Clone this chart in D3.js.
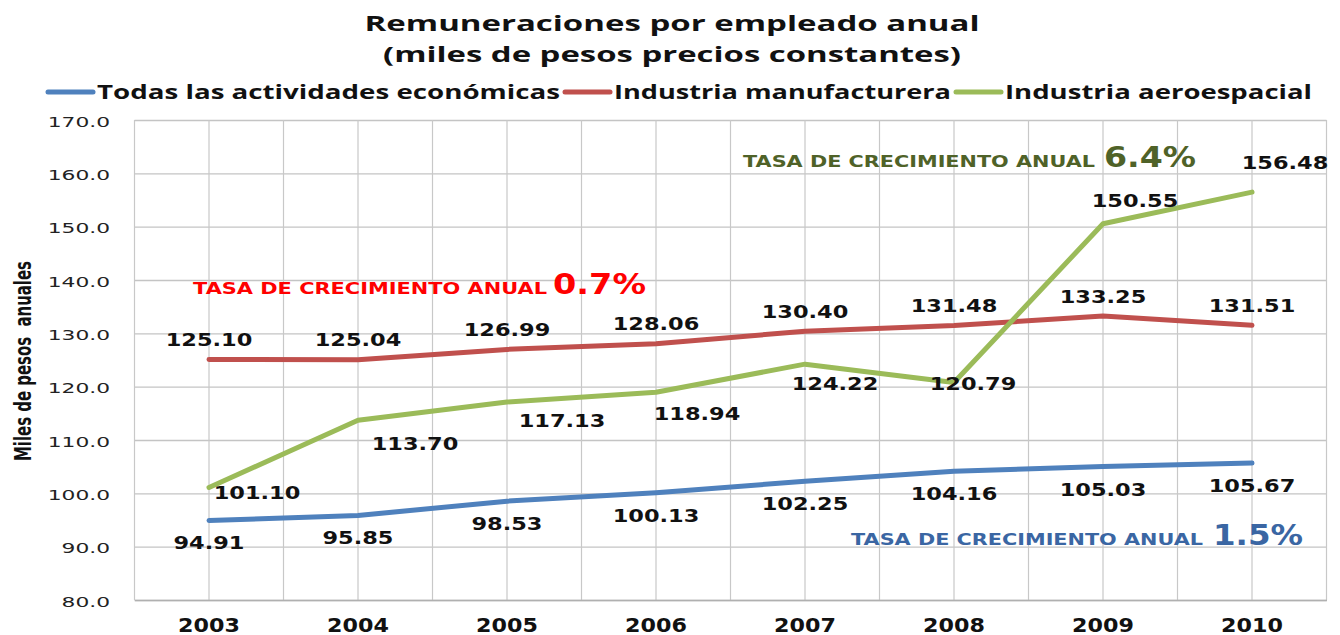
<!DOCTYPE html>
<html>
<head>
<meta charset="utf-8">
<script src="https://cdn.jsdelivr.net/npm/d3@7"></script>
<style>
  body { margin: 0; background: #fff; }
  text { white-space: pre; }
</style>
</head>
<body>
<div id="chart"></div>
<script>
var width = 1340, height = 635;

// data
var years = ['2003', '2004', '2005', '2006', '2007', '2008', '2009', '2010'];
var todas = [94.91, 95.85, 98.53, 100.13, 102.25, 104.16, 105.03, 105.67];
var manufactura = [125.10, 125.04, 126.99, 128.06, 130.40, 131.48, 133.25, 131.51];
var aeroespacial = [101.10, 113.70, 117.13, 118.94, 124.22, 120.79, 150.55, 156.48];
var seriesNames = ['Todas las actividades económicas', 'Industria manufacturera', 'Industria aeroespacial'];
var tasas = ['1.5%', '0.7%', '6.4%'];
var yTicks = [80, 90, 100, 110, 120, 130, 140, 150, 160, 170];

var colors = ['#4F81BD', '#C0504D', '#9BBB59'];
var tasaColors = ['#3A66A3', '#FF0000', '#4F6228'];

// label placement (Excel put these by hand)
var greenOffsets = [[48, 12], [57, 30], [55, 25], [41, 28], [30, 26], [19, 8], [32, -17], [33, -23]];
var tasaPos = [
    { x: 851, y: 545, px: 1213, w: 352, pw: 90 },
    { x: 193, y: 294, px: 553, w: 354, pw: 93 },
    { x: 743, y: 167, px: 1104, w: 352, pw: 92 }
];

var plot = { left: 134.5, right: 1326.5, top: 120, bottom: 600 };

function fit(sel, w) {
    sel.attr('textLength', w).attr('lengthAdjust', 'spacingAndGlyphs');
}
function stretch(sel, k) {
    sel.each(function () {
        var w = this.getComputedTextLength();
        d3.select(this).attr('textLength', w * k).attr('lengthAdjust', 'spacingAndGlyphs');
    });
}

var svg = d3.select('#chart').append('svg')
    .attr('width', width)
    .attr('height', height);

var x = d3.scaleBand().domain(years).range([plot.left, plot.right]);
var bw = x.bandwidth();
function cx(yr) { return x(yr) + bw / 2; }
var y = d3.scaleLinear().domain([80, 170]).range([plot.bottom, plot.top]);

// grid: horizontal
var gy = svg.append('g')
    .attr('transform', 'translate(' + plot.left + ',0)')
    .call(d3.axisLeft(y).tickValues(yTicks).tickSize(-(plot.right - plot.left)).tickFormat(d3.format('.1f')));
gy.select('.domain').remove();
gy.selectAll('.tick line').attr('stroke', '#C4C4C4').attr('stroke-width', 1.3);
gy.selectAll('.tick text')
    .attr('x', -24.5)
    .attr('dy', '0.42em')
    .attr('fill', '#222')
    .style('font-family', '"DejaVu Sans", Verdana, sans-serif')
    .style('font-size', '14.5px');
stretch(gy.selectAll('.tick text'), 1.5);

// grid: vertical (centres and boundaries)
var vx = [];
years.forEach(function (yr) { vx.push(x(yr)); vx.push(cx(yr)); });
vx.push(plot.right);
svg.append('g').selectAll('line').data(vx).enter().append('line')
    .attr('x1', function (d) { return d; })
    .attr('x2', function (d) { return d; })
    .attr('y1', plot.top)
    .attr('y2', plot.bottom)
    .attr('stroke', '#C8C8C8')
    .attr('stroke-width', 1.2);

// x axis
var gx = svg.append('g')
    .attr('transform', 'translate(0,' + plot.bottom + ')')
    .call(d3.axisBottom(x).tickSize(0));
gx.select('.domain').attr('stroke', '#B0B0B0').attr('stroke-width', 1.5);
gx.selectAll('.tick text')
    .attr('y', 31.7)
    .attr('dy', 0)
    .attr('fill', '#111')
    .style('font-family', '"DejaVu Sans", Verdana, sans-serif')
    .style('font-size', '19px')
    .style('font-weight', 'bold');
stretch(gx.selectAll('.tick text'), 1.17);

// y axis title
var yt = svg.append('text')
    .attr('transform', 'translate(31,361) rotate(-90)')
    .attr('text-anchor', 'middle')
    .style('font-family', '"Liberation Sans Narrow", "DejaVu Sans Condensed", sans-serif')
    .style('font-size', '23px')
    .style('font-weight', 'bold')
    .attr('fill', '#111')
    .text('Miles de pesos  anuales');
fit(yt, 200);

// lines
var allSeries = [todas, manufactura, aeroespacial];
var line = d3.line()
    .x(function (d, i) { return cx(years[i]); })
    .y(function (d) { return y(d); });

svg.append('g').selectAll('path').data(allSeries).enter().append('path')
    .attr('d', line)
    .attr('fill', 'none')
    .attr('stroke', function (d, i) { return colors[i]; })
    .attr('stroke-width', 5)
    .attr('stroke-linejoin', 'round')
    .attr('stroke-linecap', 'round');

// data labels
function labels(values, dx, dy) {
    var t = svg.append('g').selectAll('text').data(values).enter().append('text')
        .attr('x', function (d, i) { return cx(years[i]) + dx(i); })
        .attr('y', function (d, i) { return y(d) + dy(i); })
        .attr('text-anchor', 'middle')
        .attr('fill', '#111')
        .style('font-family', '"DejaVu Sans", Verdana, sans-serif')
        .style('font-size', '17px')
        .style('font-weight', 'bold')
        .text(function (d) { return d3.format('.2f')(d); });
    stretch(t, 1.32);
}
labels(todas, function () { return 0; }, function () { return 29; });
labels(manufactura, function () { return 0; }, function () { return -13.5; });
labels(aeroespacial, function (i) { return greenOffsets[i][0]; }, function (i) { return greenOffsets[i][1]; });

// growth rate notes
tasaPos.forEach(function (p, i) {
    var a = svg.append('text')
        .attr('x', p.x).attr('y', p.y)
        .attr('fill', tasaColors[i])
        .style('font-family', '"DejaVu Sans", Verdana, sans-serif')
        .style('font-size', '16px')
        .style('font-weight', 'bold')
        .text('TASA DE CRECIMIENTO ANUAL');
    fit(a, p.w);
    var b = svg.append('text')
        .attr('x', p.px).attr('y', p.y)
        .attr('fill', tasaColors[i])
        .style('font-family', '"DejaVu Sans", Verdana, sans-serif')
        .style('font-size', '28px')
        .style('font-weight', 'bold')
        .text(tasas[i]);
    fit(b, p.pw);
});

// title
var titleLines = ['Remuneraciones por empleado anual', '(miles de pesos precios constantes)'];
var titleWidths = [615, 578];
titleLines.forEach(function (s, i) {
    var t = svg.append('text')
        .attr('x', 672)
        .attr('y', 31 + i * 31)
        .attr('text-anchor', 'middle')
        .attr('fill', '#111')
        .style('font-family', '"Open Sans", sans-serif')
        .style('font-size', '22px')
        .style('font-weight', 'bold')
        .text(s);
    fit(t, titleWidths[i]);
});

// legend
var legendWidths = [463, 337, 307];
var lx = 48;
seriesNames.forEach(function (s, i) {
    svg.append('line')
        .attr('x1', lx).attr('x2', lx + 45)
        .attr('y1', 92).attr('y2', 92)
        .attr('stroke', colors[i])
        .attr('stroke-width', 5)
        .attr('stroke-linecap', 'round');
    var t = svg.append('text')
        .attr('x', lx + 49)
        .attr('y', 99)
        .attr('fill', '#111')
        .style('font-family', '"Open Sans", sans-serif')
        .style('font-size', '19px')
        .style('font-weight', 'bold')
        .text(s);
    fit(t, legendWidths[i]);
    lx += 49 + legendWidths[i] + 5;
});
</script>
</body>
</html>
